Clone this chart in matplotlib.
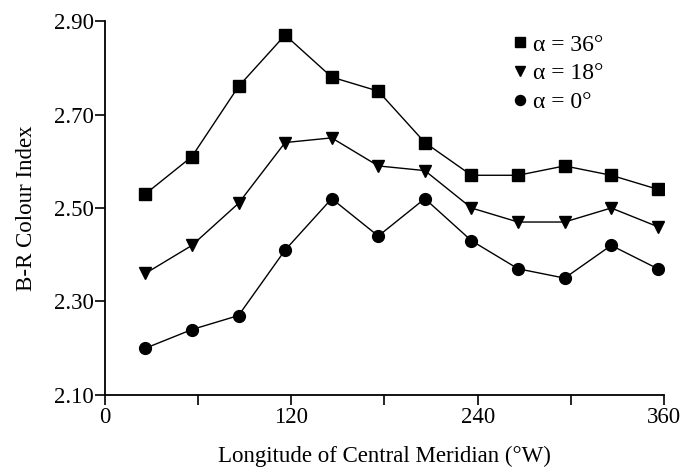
import matplotlib
matplotlib.use('Agg')
import matplotlib.pyplot as plt

# longitude of central meridian (deg W)
lon = [26, 56, 86, 116, 146, 176, 206, 236, 266, 296, 326, 356]
alpha36 = [2.53, 2.61, 2.76, 2.87, 2.78, 2.75, 2.64, 2.57, 2.57, 2.59, 2.57, 2.54]
alpha18 = [2.36, 2.42, 2.51, 2.64, 2.65, 2.59, 2.58, 2.50, 2.47, 2.47, 2.50, 2.46]
alpha0 = [2.20, 2.24, 2.27, 2.41, 2.52, 2.44, 2.52, 2.43, 2.37, 2.35, 2.42, 2.37]
labels = ['\u03b1 = 36\u00b0', '\u03b1 = 18\u00b0', '\u03b1 = 0\u00b0']

plt.rcParams['font.family'] = ['Liberation Serif', 'DejaVu Serif']

fig = plt.figure(figsize=(6.83, 4.70), dpi=100)
ax = fig.add_axes([0.1537, 0.1596, 0.8185, 0.7957])

ax.plot(lon, alpha36, 'k-', marker='s', ms=8.5, lw=1.0, label=labels[0])
ax.plot(lon, alpha18, 'k-', marker='v', ms=8.5, lw=1.0, label=labels[1])
ax.plot(lon, alpha0, 'k-', marker='o', ms=8.5, lw=1.0, label=labels[2])

ax.set_xlim(0, 360)
ax.set_ylim(2.10, 2.90)
ax.set_xticks([0, 60, 120, 180, 240, 300, 360])
ax.set_xticklabels(['0', '', '120', '', '240', '', '360'])
ax.set_yticks([2.10, 2.30, 2.50, 2.70, 2.90])
ax.set_yticklabels(['2.10', '2.30', '2.50', '2.70', '2.90'])
ax.tick_params(axis='both', direction='out', length=7, width=1.2, labelsize=16.5, colors='black')
ax.tick_params(axis='x', pad=2)
ax.tick_params(axis='y', pad=1)
for s in ['top', 'right']:
    ax.spines[s].set_visible(False)
for s in ['left', 'bottom']:
    ax.spines[s].set_linewidth(1.3)

ax.set_xlabel('Longitude of Central Meridian (\u00b0W)', fontsize=16.5)
ax.xaxis.set_label_coords(0.5, -0.135)
ax.set_ylabel('B-R Colour Index', fontsize=16.5)
ax.yaxis.set_label_coords(-0.122, 0.5)

leg = ax.legend(loc='upper left', bbox_to_anchor=(0.728, 0.965), frameon=False, fontsize=17,
                handlelength=0.7, handletextpad=0.2, labelspacing=0.3, borderpad=0.0,
                borderaxespad=0.0, markerscale=0.85)
for h in leg.get_lines():
    h.set_linestyle('none')

fig.savefig('out.png', dpi=100)
